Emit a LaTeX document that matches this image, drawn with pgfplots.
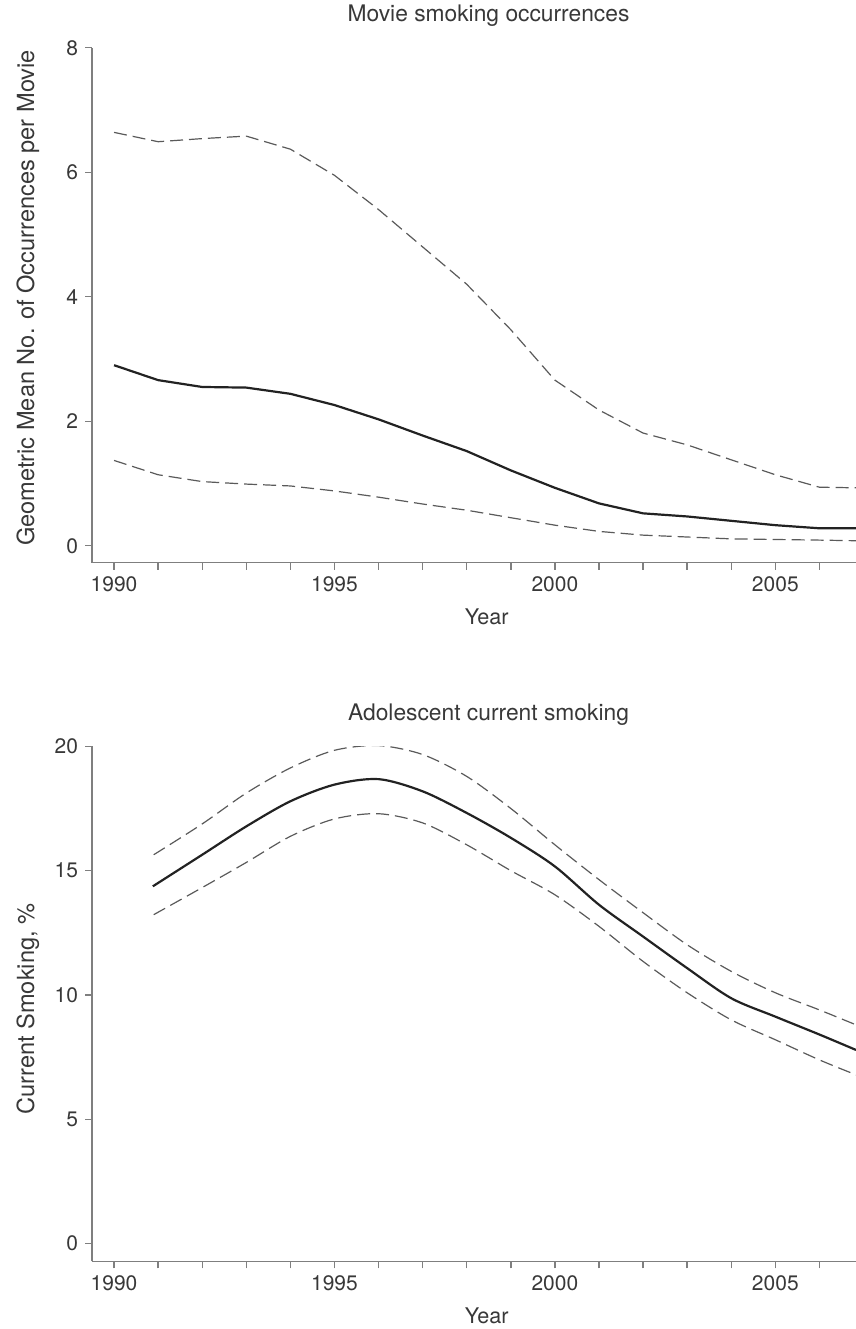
\documentclass[border=0pt]{standalone}
\usepackage{fontspec}
\setmainfont{TeX Gyre Heros}
\usepackage{pgfplots}
\pgfplotsset{compat=1.18}
\definecolor{txt}{HTML}{383838}
\definecolor{axc}{HTML}{7F7F7F}
\definecolor{dsh}{HTML}{5A5A5A}
\definecolor{sol}{HTML}{222222}
\pgfplotsset{
  base/.style={
    scale only axis, width=382pt, height=257.5pt,
    axis x line*=bottom, axis y line*=left,
    axis line style={-, draw=axc, line width=0.7pt},
    every tick/.style={draw=axc, line width=0.7pt},
    tick align=outside, major tick length=3.5pt, minor tick length=3.5pt,
    xmin=1989.5, xmax=2006.83,
    xtick={1990,1995,2000,2005},
    minor xtick={1991,1992,1993,1994,1996,1997,1998,1999,2001,2002,2003,2004,2006},
    /pgf/number format/1000 sep={},
    /pgf/number format/assume math mode=true,
    tick label style={font=\fontsize{10.5}{12}\selectfont, text=txt},
    ylabel style={font=\fontsize{11.8}{13}\selectfont, text=txt},
    xlabel style={font=\fontsize{10.8}{13}\selectfont, text=txt, at={(axis description cs:0.5166,0)}, anchor=base, yshift=-31pt},
    title style={font=\fontsize{11.4}{13}\selectfont, text=txt, at={(axis description cs:0.519,1)}, anchor=base, yshift=7pt},
    xlabel={Year},
    solidline/.style={sol, line width=1.1pt},
    dashline/.style={dsh, line width=0.6pt, dash pattern=on 6.5pt off 3pt},
  }
}
\begin{document}
\begin{tikzpicture}
\path[use as bounding box] (0,0) rectangle (428pt,-664.5pt);
\begin{axis}[base, at={(46pt,-281.35pt)}, anchor=south west,
  ymin=-0.273, ymax=8, ytick={0,2,4,6,8},
  title={Movie smoking occurrences},
  ylabel={Geometric Mean No. of Occurrences per Movie},
  ylabel style={at={(axis description cs:-0.0838,0.514)}, anchor=center}]
\addplot[dashline] coordinates {(1990,6.64) (1991,6.49) (1992,6.54) (1993,6.58) (1994,6.37) (1995,5.95) (1996,5.40) (1997,4.80) (1998,4.20) (1999,3.47) (2000,2.66) (2001,2.18) (2002,1.81) (2003,1.62) (2004,1.38) (2005,1.14) (2006,0.94) (2006.83,0.93)};
\addplot[solidline] coordinates {(1990,2.90) (1991,2.66) (1992,2.55) (1993,2.54) (1994,2.44) (1995,2.26) (1996,2.03) (1997,1.77) (1998,1.52) (1999,1.21) (2000,0.93) (2001,0.68) (2002,0.52) (2003,0.47) (2004,0.40) (2005,0.33) (2006,0.28) (2006.83,0.28)};
\addplot[dashline] coordinates {(1990,1.37) (1991,1.14) (1992,1.03) (1993,0.99) (1994,0.96) (1995,0.88) (1996,0.78) (1997,0.67) (1998,0.57) (1999,0.45) (2000,0.33) (2001,0.23) (2002,0.17) (2003,0.14) (2004,0.11) (2005,0.10) (2006,0.09) (2006.83,0.08)};
\end{axis}
\begin{axis}[base, at={(46pt,-630.65pt)}, anchor=south west,
  ymin=-0.71, ymax=20, ytick={0,5,10,15,20},
  title={Adolescent current smoking},
  ylabel={Current Smoking, \%},
  ylabel style={at={(axis description cs:-0.0838,0.49)}, anchor=center}]
\addplot[dashline, smooth] coordinates {(1990.9,15.64) (1992,16.88) (1993,18.12) (1994,19.13) (1995,19.84) (1996,20.03) (1997,19.67) (1998,18.79) (1999,17.5) (2000,16.04) (2001,14.64) (2002,13.31) (2003,12.02) (2004,10.95) (2005,10.09) (2006,9.40) (2006.83,8.80)};
\addplot[solidline, smooth] coordinates {(1990.88,14.37) (1992,15.64) (1993,16.78) (1994,17.79) (1995,18.46) (1996,18.68) (1997,18.19) (1998,17.32) (1999,16.32) (2000,15.17) (2001,13.63) (2002,12.35) (2003,11.08) (2004,9.87) (2005,9.13) (2006,8.41) (2006.83,7.79)};
\addplot[dashline, smooth] coordinates {(1990.9,13.23) (1992,14.32) (1993,15.33) (1994,16.38) (1995,17.08) (1996,17.29) (1997,16.92) (1998,16.04) (1999,15.0) (2000,14.03) (2001,12.76) (2002,11.35) (2003,10.09) (2004,9.0) (2005,8.2) (2006,7.39) (2006.83,6.79)};
\end{axis}
\end{tikzpicture}
\end{document}
